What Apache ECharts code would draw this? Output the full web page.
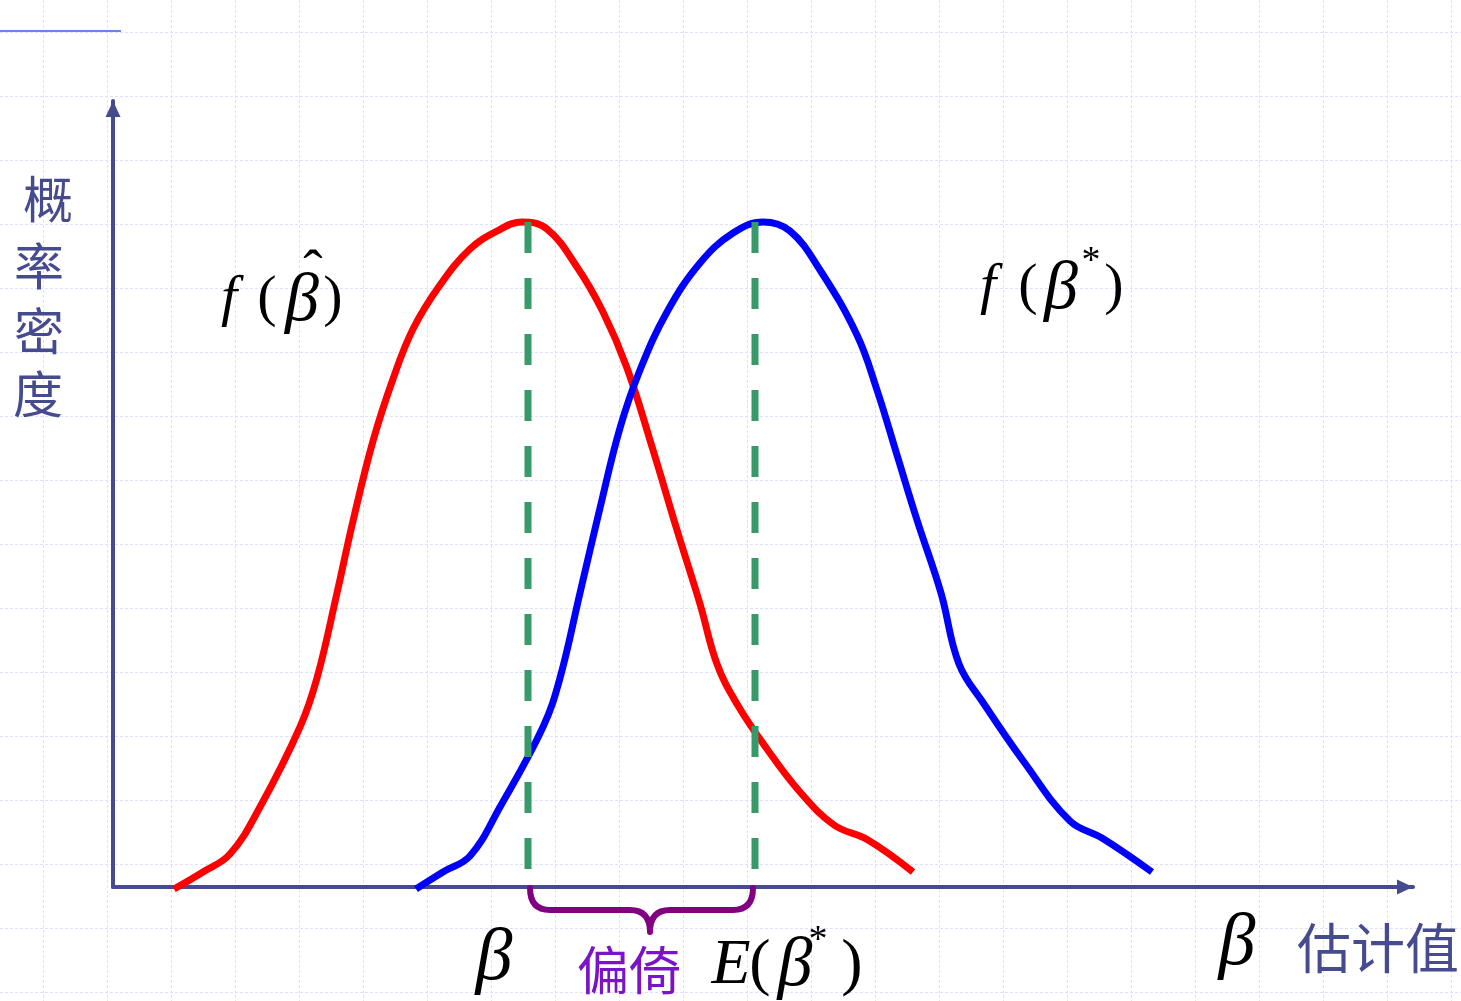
<!DOCTYPE html>
<html><head><meta charset="utf-8">
<script src="https://cdn.jsdelivr.net/npm/echarts@6/dist/echarts.min.js"></script>
<style>html,body{margin:0;padding:0;background:#fff}#c{width:1461px;height:1001px}</style>
</head><body><div id="c"></div>
<script>
// Estimate value (x) and probability density (y)
const redX  = [6.1, 9.0, 11.7, 14.7, 18.7, 20.4, 22.4, 24.0, 26.0, 28.0, 30.0, 32.7, 35.7, 38.4, 40.9, 43.4, 46.4, 49.0, 51.4, 54.0, 56.4, 58.7, 60.4, 62.4, 65.4, 68.7, 72.1, 75.5, 80.0];
const redY  = [-0.2, 1.5, 3.3, 8.0, 16.0, 20.9, 29.4, 36.6, 44.6, 50.8, 55.8, 60.2, 63.8, 65.6, 66.5, 65.8, 62.0, 57.5, 51.9, 43.7, 35.7, 28.3, 22.3, 18.3, 13.8, 9.5, 6.2, 4.7, 1.5];
const blueX = [30.3, 33.0, 35.7, 38.7, 43.0, 44.7, 46.7, 48.7, 50.7, 52.7, 55.4, 58.7, 62.0, 65.0, 67.7, 70.7, 74.4, 76.4, 78.4, 80.4, 82.8, 84.6, 87.1, 91.1, 95.7, 98.9, 103.9];
const blueY = [-0.2, 1.5, 3.1, 8.0, 16.0, 20.9, 29.4, 37.9, 45.9, 51.7, 57.5, 62.4, 65.4, 66.5, 65.6, 61.7, 55.2, 49.7, 43.2, 36.7, 29.4, 22.3, 18.3, 12.5, 6.6, 4.9, 1.5];
const betaTrue = 41.5;        // β
const betaExpected = 64.2;    // E(β*)
const markTop = 66.5;         // top of dashed markers
const braceEnds = [41.7, 64.0];
const braceTip = 53.7;

const zip = (xs, ys) => xs.map((x, i) => [x, ys[i]]);
const AX = '#464A8E';
const GRIDC = '#dde2f8';
const serifI = s => 'italic ' + s + 'px "Liberation Serif", "Times New Roman", serif';
const serif = s => s + 'px "Liberation Serif", "Times New Roman", serif';
const cjk = s => s + 'px "Noto Sans CJK SC", sans-serif';
const T = (text, x, y, font, fill) => ({type:'text', x, y, z: 50, style:{text, font, fill: fill || '#000', align:'center', verticalAlign:'middle', textAlign:'center', textVerticalAlign:'middle'}});
const hidden = {axisLine: {show: false}, axisTick: {show: false}, axisLabel: {show: false}};
const bgSplit = {show: true, lineStyle: {color: GRIDC, width: 1, type: [3, 2]}};

const chart = echarts.init(document.getElementById('c'), null, {renderer:'canvas'});
chart.setOption({
  animation: false,
  backgroundColor: '#fff',
  grid: [
    {left: 113, right: 48, top: 101, bottom: 114},
    {left: 43, width: 1408, top: 0, bottom: 0, z: 0},
    {left: 0, right: 0, top: 32, height: 960, z: 0}
  ],
  xAxis: [
    {gridIndex: 0, type: 'value', min: 0, max: 130,
     axisLine: {show: true, symbol: ['none', 'triangle'], symbolSize: [15, 16], symbolOffset: [0, -8], lineStyle: {color: AX, width: 4}},
     axisTick: {show: false}, axisLabel: {show: false}, splitLine: {show: false}, z: 5},
    Object.assign({gridIndex: 1, type: 'value', min: 0, max: 22, interval: 1, splitLine: bgSplit, z: 0}, hidden),
    Object.assign({gridIndex: 2, type: 'value', min: 0, max: 1, splitLine: {show: false}, z: 0}, hidden)
  ],
  yAxis: [
    {gridIndex: 0, type: 'value', min: 0, max: 78.6,
     axisLine: {show: true, symbol: ['none', 'triangle'], symbolSize: [15, 16], symbolOffset: [0, -8], lineStyle: {color: AX, width: 4}},
     axisTick: {show: false}, axisLabel: {show: false}, splitLine: {show: false}, z: 5},
    Object.assign({gridIndex: 1, type: 'value', min: 0, max: 1, splitLine: {show: false}, z: 0}, hidden),
    Object.assign({gridIndex: 2, type: 'value', min: 0, max: 15, interval: 1, splitLine: bgSplit, z: 0}, hidden)
  ],
  series: [
    {type: 'line', name: 'beta-hat', data: zip(redX, redY), smooth: 0.4, symbol: 'none', clip: false,
     lineStyle: {color: '#FF0000', width: 7}, z: 10},
    {type: 'line', name: 'beta-star', data: zip(blueX, blueY), smooth: 0.4, symbol: 'none', clip: false,
     lineStyle: {color: '#0000FF', width: 7}, z: 10},
    {type: 'line', data: [[betaTrue, markTop], [betaTrue, 0]], symbol: 'none', clip: false,
     lineStyle: {color: '#379A69', width: 7, type: [31, 25]}, z: 11},
    {type: 'line', data: [[betaExpected, markTop], [betaExpected, 0]], symbol: 'none', clip: false,
     lineStyle: {color: '#379A69', width: 7, type: [31, 25]}, z: 11},
    {type: 'custom', data: [[braceEnds[0], braceEnds[1], braceTip]], clip: false, z: 12,
     renderItem: function (params, api) {
       const l = api.coord([api.value(0), 0]);
       const r = api.coord([api.value(1), 0]);
       const t = api.coord([api.value(2), 0]);
       const y0 = l[1] + 1, yh = y0 + 22, yt = y0 + 44;
       const xl = l[0], xr = r[0], xt = t[0];
       const d = 'M' + xl + ' ' + y0 + ' Q' + xl + ' ' + yh + ' ' + (xl + 20) + ' ' + yh +
         ' L' + (xt - 20) + ' ' + yh + ' Q' + xt + ' ' + yh + ' ' + xt + ' ' + yt +
         ' Q' + xt + ' ' + yh + ' ' + (xt + 20) + ' ' + yh +
         ' L' + (xr - 20) + ' ' + yh + ' Q' + xr + ' ' + yh + ' ' + xr + ' ' + y0;
       return {type: 'path', shape: {pathData: d}, style: {stroke: '#800080', lineWidth: 6, fill: 'none', lineCap: 'round', lineJoin: 'round'}};
     }}
  ],
  graphic: [
    {type: 'line', shape: {x1: 0, y1: 31, x2: 121, y2: 31}, style: {stroke: '#6b83ec', lineWidth: 2}, z: 50},
    T('概', 48, 199, cjk(50), AX),
    T('率', 39, 266, cjk(50), AX),
    T('密', 39, 331, cjk(50), AX),
    T('度', 38, 394, cjk(50), AX),
    // f(β̂)
    T('f', 229, 300, serifI(58)),
    T('(', 267, 300, serif(58)),
    T('β', 302, 302, serifI(68)),
    T('ˆ', 313, 274, serif(58)),
    T(')', 333, 300, serif(58)),
    // f(β*)
    T('f', 988, 288, serifI(58)),
    T('(', 1028, 288, serif(58)),
    T('β', 1061, 290, serifI(68)),
    T('*', 1091, 262, serif(38)),
    T(')', 1114, 288, serif(58)),
    // bottom
    T('β', 494, 960, serifI(74)),
    T('偏倚', 629, 970, cjk(52), '#7B14C8'),
    T('E', 731, 966, serifI(64)),
    T('(', 760, 966, serif(64)),
    T('β', 795, 967, serifI(70)),
    T('*', 818, 941, serif(38)),
    T(')', 852, 966, serif(64)),
    T('β', 1237, 945, serifI(74)),
    T('估计值', 1378, 948, cjk(54), AX)
  ]
});
</script></body></html>
